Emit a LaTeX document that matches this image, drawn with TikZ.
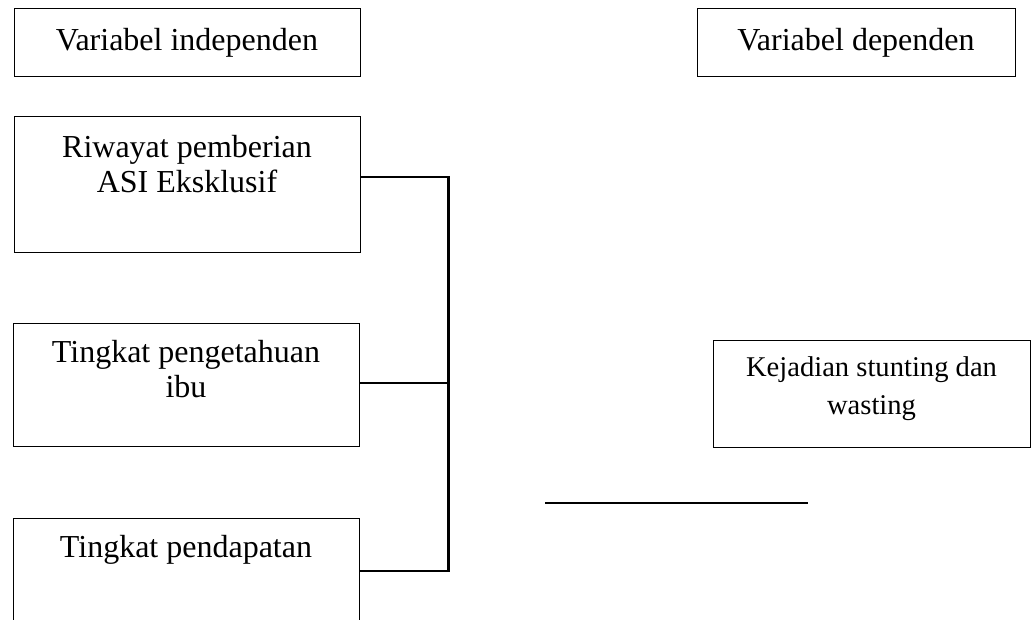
\documentclass[tikz,border=0pt]{standalone}
\usepackage{fontspec}
\setmainfont{Liberation Serif}
\usetikzlibrary{positioning}
\begin{document}
\begin{tikzpicture}[x=0.5pt, y=-0.5pt,
kotak/.style={draw, line width=0.5pt, inner sep=0pt, minimum width=173pt},
isi/.style={inner sep=0pt, align=center, font=\fontsize{16}{17.5}\selectfont},
garis/.style={line width=0.7pt}]
\useasboundingbox (0,0) rectangle (1032,620);
\clip (0,0) rectangle (1032,620);

\node[kotak, minimum height=34pt, isi] (indep) at (187,43) {Variabel independen};
\node[kotak, minimum width=159pt, minimum height=34pt, isi] (dep) at (856,43) {Variabel dependen};

\node[kotak, minimum height=67.5pt] (riwayat) at (187,184.5) {};
\node[isi, below=9pt of riwayat.north] (riwayat-t) {Riwayat pemberian\\ASI Eksklusif};
\node[kotak, minimum height=61.5pt] (tahu) at (186,384.5) {};
\node[isi, below=8.5pt of tahu.north] (tahu-t) {Tingkat pengetahuan\\ibu};
\node[kotak, minimum height=61pt] (dapat) at (186,579) {};
\node[isi, below=8.5pt of dapat.north] (dapat-t) {Tingkat pendapatan};

\node[kotak, minimum width=158.5pt, minimum height=53.5pt] (kejadian) at (871.5,393.5) {};
\node[isi, font=\fontsize{14.3}{19}\selectfont, below=8.5pt of kejadian.north] (kejadian-t) {Kejadian stunting dan\\wasting};

\coordinate (bus-atas) at (448,177);
\coordinate (bus-tengah) at (448,383);
\coordinate (bus-bawah) at (448,571);
\draw[garis] (riwayat.east |- bus-atas) -- (bus-atas);
\draw[garis] (tahu.east |- bus-tengah) -- (bus-tengah);
\draw[garis] (dapat.east |- bus-bawah) -- (bus-bawah);
\draw[line width=1.5pt] ([yshift=0.35pt]bus-atas) -- ([yshift=-0.35pt]bus-bawah);

\coordinate (garis-a) at (545,503);
\coordinate (garis-b) at (808,503);
\draw[line width=0.8pt] (garis-a) -- (garis-b);
\end{tikzpicture}
\end{document}
